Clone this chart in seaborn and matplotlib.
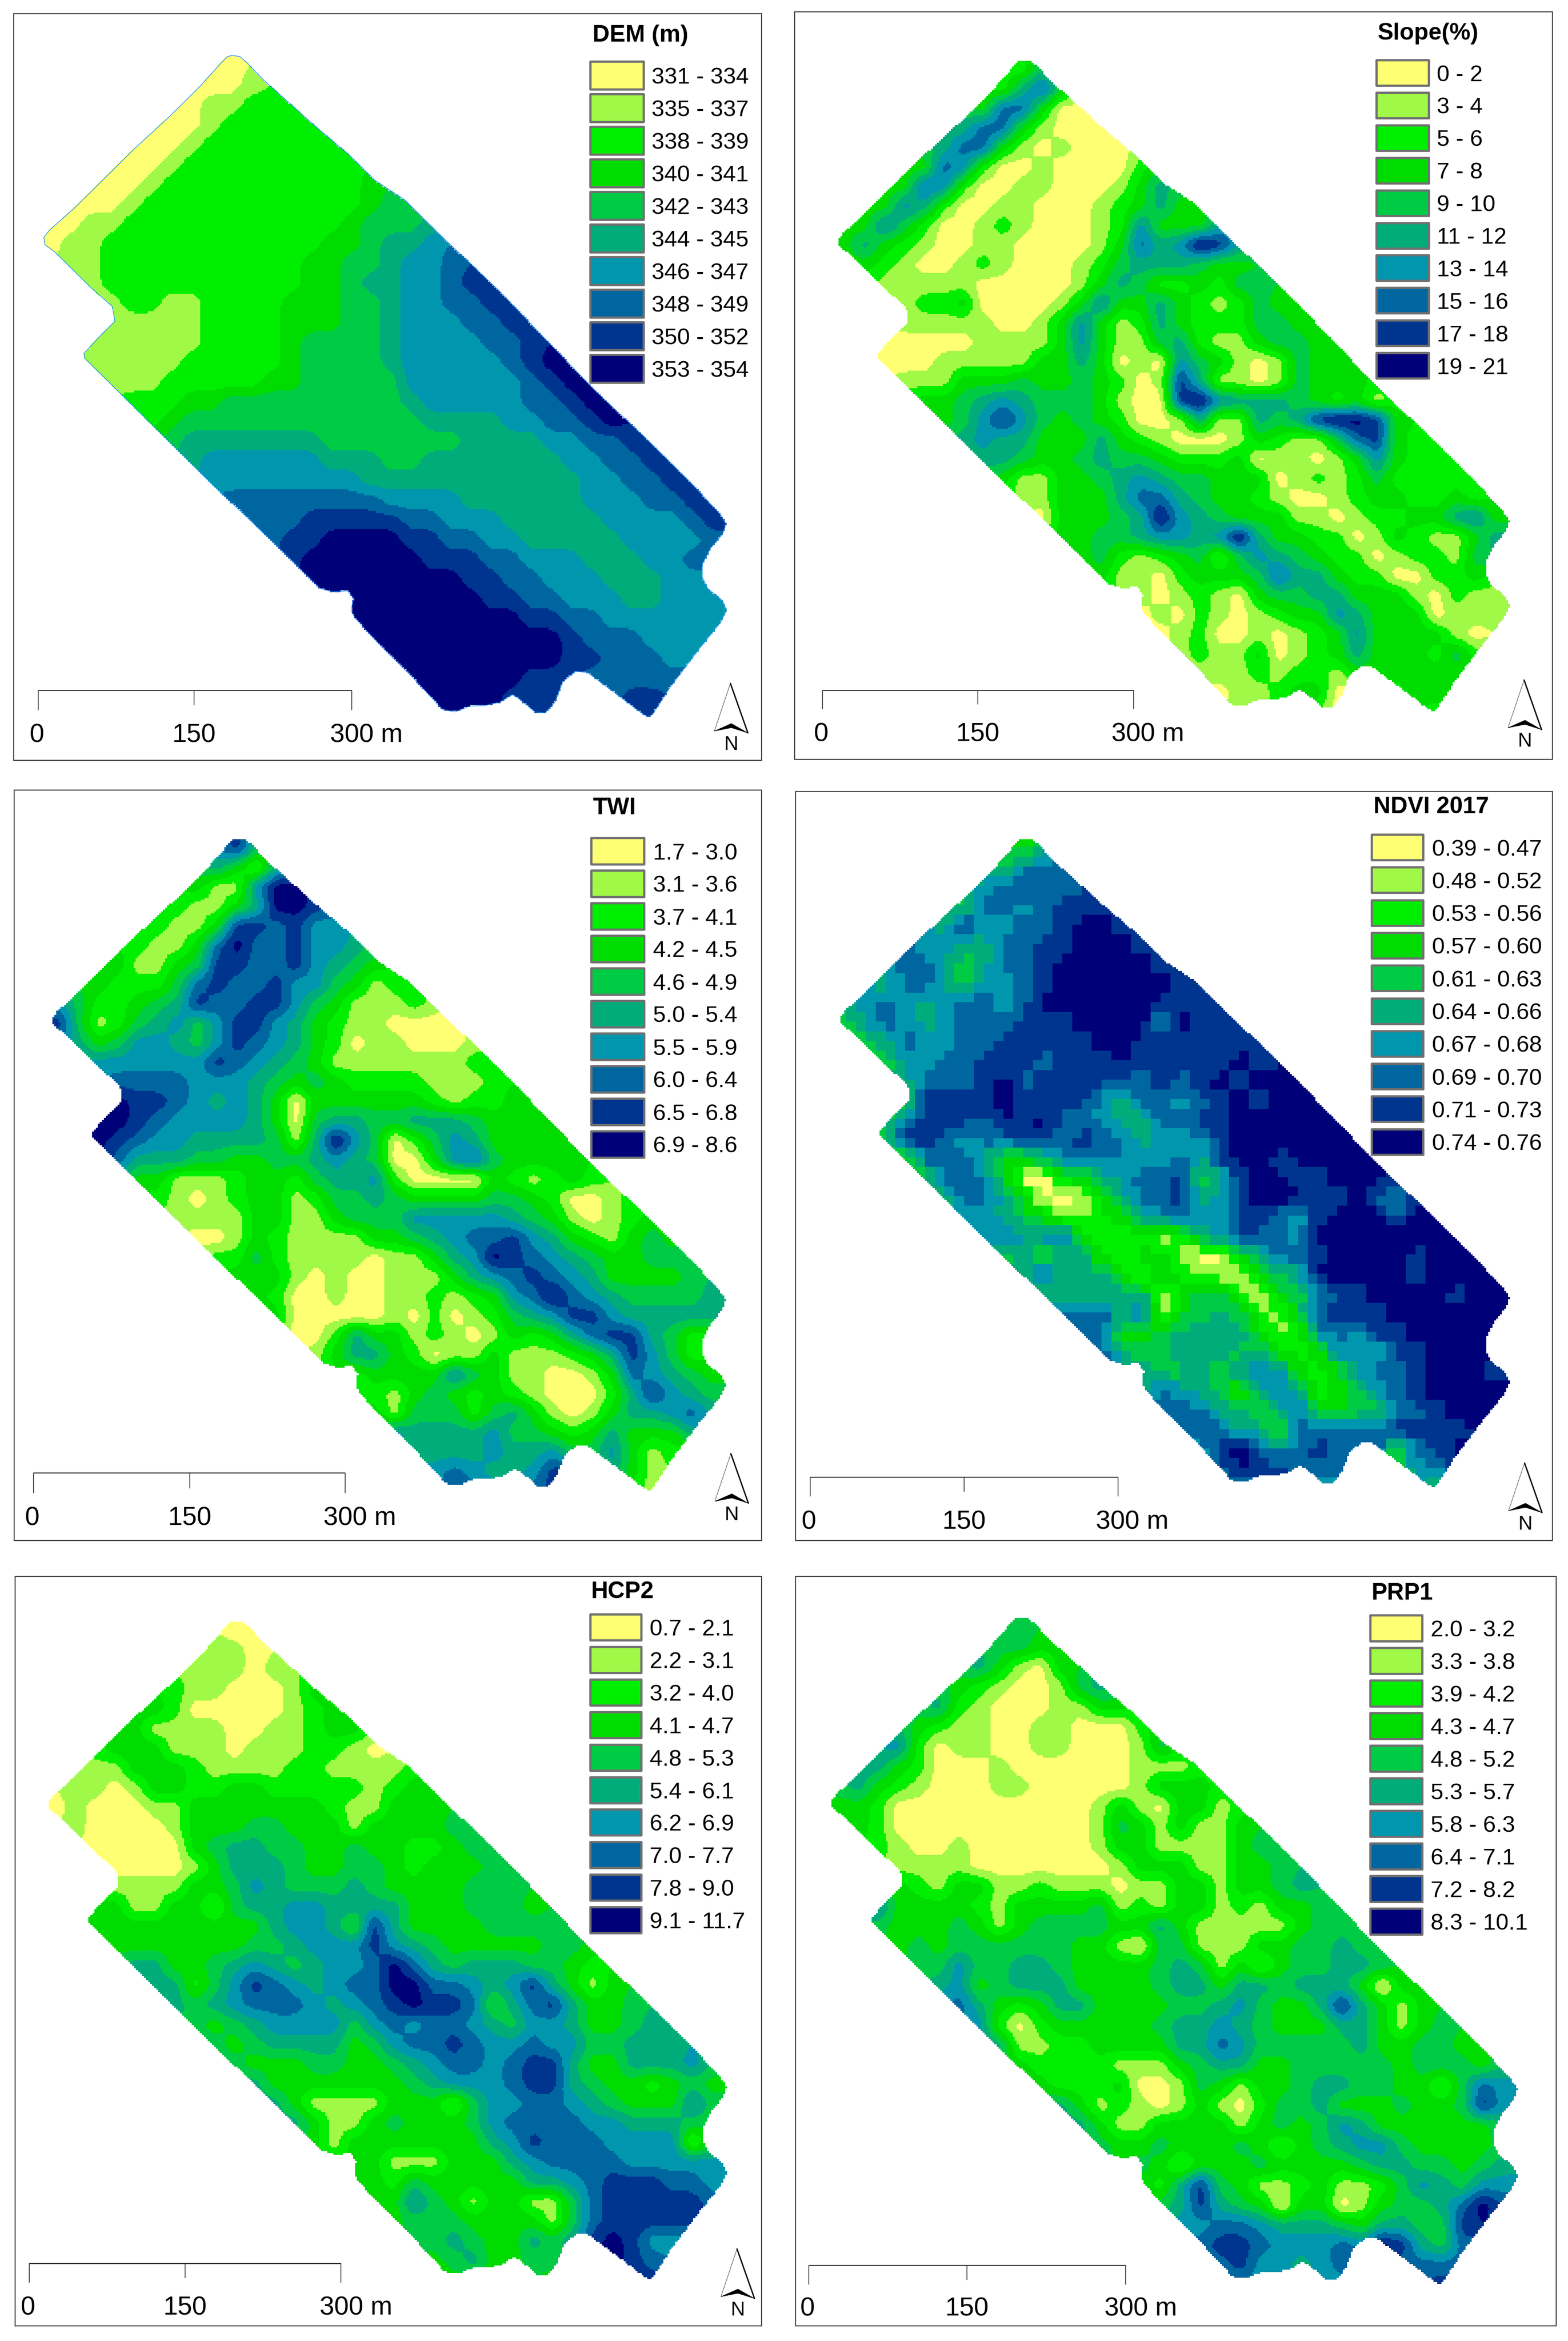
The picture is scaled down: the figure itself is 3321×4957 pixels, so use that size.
import numpy as np
import matplotlib
matplotlib.use("Agg")
import matplotlib.pyplot as plt
from matplotlib.colors import ListedColormap
from matplotlib.patches import Rectangle, Polygon
from matplotlib.path import Path
import seaborn as sns

sns.set_theme(style="white")
plt.rcParams['font.family'] = ['Liberation Sans', 'DejaVu Sans']

CLASS_COLORS = ['#FFFF73', '#A0F946', '#00EE00', '#00DC00', '#00CB44',
                '#00AD7A', '#0096AE', '#0066A0', '#00358F', '#000078']

DEM_LABELS = ['331 - 334', '335 - 337', '338 - 339', '340 - 341', '342 - 343',
              '344 - 345', '346 - 347', '348 - 349', '350 - 352', '353 - 354']
SLOPE_LABELS = ['0 - 2', '3 - 4', '5 - 6', '7 - 8', '9 - 10',
                '11 - 12', '13 - 14', '15 - 16', '17 - 18', '19 - 21']
TWI_LABELS = ['1.7 - 3.0', '3.1 - 3.6', '3.7 - 4.1', '4.2 - 4.5', '4.6 - 4.9',
              '5.0 - 5.4', '5.5 - 5.9', '6.0 - 6.4', '6.5 - 6.8', '6.9 - 8.6']
NDVI_LABELS = ['0.39 - 0.47', '0.48 - 0.52', '0.53 - 0.56', '0.57 - 0.60', '0.61 - 0.63',
               '0.64 - 0.66', '0.67 - 0.68', '0.69 - 0.70', '0.71 - 0.73', '0.74 - 0.76']
HCP2_LABELS = ['0.7 - 2.1', '2.2 - 3.1', '3.2 - 4.0', '4.1 - 4.7', '4.8 - 5.3',
               '5.4 - 6.1', '6.2 - 6.9', '7.0 - 7.7', '7.8 - 9.0', '9.1 - 11.7']
PRP1_LABELS = ['2.0 - 3.2', '3.3 - 3.8', '3.9 - 4.2', '4.3 - 4.7', '4.8 - 5.2',
               '5.3 - 5.7', '5.8 - 6.3', '6.4 - 7.1', '7.2 - 8.2', '8.3 - 10.1']
SCALE_LABELS = ['0', '150', '300 m']

# first occupied column of each row of the class grids
ROW_START = [9, 8, 7, 6, 5, 4, 3, 2, 1, 0, 1, 2, 3, 3, 2, 2, 3, 4, 5, 6, 7, 8, 9,
             10, 11, 12, 13, 15, 15, 16, 17, 18, 19, 20]

DEM = ["0", "001", "01122", "00122222", "0012222222", "001222222222",
       "00122222222223", "0012222222222234", "011222222222223444",
       "01122222222222334556", "11222222222233445667", "12222222222334556678",
       "12211222233344566778", "111112222333445666778", "11111122223444456666778",
       "111112222234444566666789", "111222223344444666666789", "222334444444445666667789",
       "234444444444445555667789", "455555554444444555566778", "566666655544555555566778",
       "666666665555555555566778", "777777776666555555666778", "777888887766655555666678",
       "78899998877665555566667", "899999988877666555667", "99999999887766655566",
       "9999999887766655666", "9999999998877666666", "99999999998777666",
       "999999999887776", "99999988.77777", "9999888..788", "99...8....8"]

SLOPE = ["2", "257", "37730", "57731000", "5773101000", "376200100002",
         "37620011000135", "3652001100012353", "364200121000126333",
         "35321001100001375698", "32100121000124555433", "11111000001354223244",
         "12230000136335321243", "111110013631253222443", "00000111136311452113443",
         "000111113353010643101433", "111333433432018511014333", "334565444310089655543231",
         "346864343200151154589983", "565533353210001321147832", "554334544322230110136322",
         "311334565443330121242222", "113335775433210012332232", "033345965433311012233563",
         "33445665695332201321135", "342123414654322012214", "31102333475532200223",
         "1012103445533310211", "0102101233653330111", "01200101236333310",
         "121130123533324", "11121221.33333", "0112330..233", "11...0....2"]

TWI = ["8", "531", "31169", "21135998", "2113887866", "211379778665",
       "31134887786543", "3222478778664312", "422345877886431112",
       "84124564688653211000", "53466546876532011000", "66666687654311111112",
       "77776665434322221112", "988765653033333321223", "99876666530455445554333",
       "987665555415964024653333", "755544334456540036743333", "331112332455620000321232",
       "2101233124454333344320012", "1111331134446666654310123", "0013211113345677865321343",
       "224211110113569876543344", "333101001113567876533334", "320010011212367976544445",
       "30000010201245688655555", "0025331210132357885422", "13553201131112358642",
       "2333364311001376543", "2213432321000258654", "31444245310135567",
       "655556443235333", "55556556.46312", "6765568..531", "77...8....1"]

NDVI = ["3", "467", "67877", "47767888", "5866778998", "675577889998",
        "77545778999998", "5775466789999998", "676567767999999888",
        "46765677788899996988", "45766778888899888888", "46677888788898888898",
        "57778978888778789899", "488889888865776789899", "47888798977655778899999",
        "488767788787756668999999", "377753356776667589989999", "478640033567784589978999",
        "577530013577856899988977", "665431123567668876899979", "675673222125687769999999",
        "463552233100357789999899", "575553142110445999998999", "555555134420346889999899",
        "77757134542147888999999", "773345555312676889999", "75445554532366588999",
        "5446366632367789998", "5765425752346789999", "77755357334477899",
        "777553777778888", "68976787.73789", "7988777..466", "66...5....5"]

HCP2 = ["0", "110", "11101", "21100013", "3200000123", "311110011233",
        "33311101112210", "1133321111221111", "110133223322222123",
        "01000113333333211333", "10000133344333133334", "00000345544334332234",
        "00001355543344323334", "111133465444543333444", "33113314556655553334443",
        "333333333566538533334444", "333333344566686543333344", "553345654566797545554432",
        "552468765677997765685313", "545677765678988735785334", "434566664676776546653345",
        "434555534677876676644555", "433344334567767885335556", "533333334566678854332343",
        "53111133314667765433364", "531134333467777665554", "31333333356877766661",
        "3311133356777766666", "3324333335567888776", "33643133114788888",
        "344433331478888", "44543354.89866", "3453344..987", "33...3....8"]

PRP1 = ["4", "443", "53103", "32100145", "5210001133", "321100110002",
        "62011001100014", "5320001000000111", "532100011000001333",
        "33200000000001310331", "32000000000014313113", "21001000000133111134",
        "11110000000133311334", "321331121110113313345", "63333213333412133121334",
        "433343134444335311111344", "343444444331044111334454", "446445543333454131344554",
        "563455533334553554555303", "753235533334456433585313", "620233333455654333553134",
        "511223333557644444533443", "322221113455334444434443", "322230014313345544331476",
        "53121013102445333433486", "531133331343465333333", "43343334313456643333",
        "4313334333345544345", "3258431123112465466", "45854303301344579",
        "667765554355448", "78876667.98547", "7866567..777", "66...6....8"]

FIELD_X = [465, 480, 495, 525, 630, 700, 750, 810, 880, 1000, 1085, 1190, 1290, 1380, 1440, 1452,
           1445, 1420, 1405, 1403, 1415, 1445, 1453, 1440, 1400, 1340, 1305, 1295, 1280, 1175, 1150,
           1125, 1110, 1090, 1070, 1040, 1025, 1000, 970, 940, 910, 885, 830, 760, 710, 702, 707,
           695, 665, 640, 560, 430, 340, 240, 170, 168, 200, 230, 225, 180, 110, 90, 88, 100, 150,
           210, 270, 340, 400, 440, 455]
FIELD_Y = [112, 115, 128, 160, 255, 315, 365, 405, 475, 590, 680, 790, 885, 975, 1040, 1060,
           1080, 1110, 1140, 1165, 1190, 1215, 1235, 1260, 1310, 1390, 1445, 1450, 1440, 1360, 1358,
           1380, 1420, 1442, 1440, 1415, 1405, 1420, 1427, 1428, 1440, 1435, 1375, 1305, 1250, 1235, 1210,
           1195, 1197, 1190, 1110, 985, 895, 795, 725, 715, 680, 650, 620, 580, 510, 495, 480, 465, 420,
           360, 300, 235, 175, 130, 115]

# layout in output pixels -----------------------------------------------------
W, H = 3321, 4957
NROW, NCOL, UP, BLOCK = 34, 35, 10, 5
PANELS = [
    dict(title='DEM (m)', rows=DEM, labels=DEM_LABELS, frame=(29, 1613, 29, 1610), field=(93, 1539, 117, 1518),
         sw=(1250, 1363, 130, 189, 69.0), tx=1380, ttl=(1255, 75),
         bar=(81, 411, 745, 1462, 1503, 1552, 699), north=(1547, 1447), outline=True, blocks=False),
    dict(title='Slope(%)', rows=SLOPE, labels=SLOPE_LABELS, frame=(1683, 3288, 25, 1608), field=(1776, 3198, 127, 1506),
         sw=(2915, 3026, 127, 181, 68.9), tx=3043, ttl=(2918, 71),
         bar=(1742, 2071, 2401, 1462, 1501, 1549, 2354), north=(3228, 1440), outline=False, blocks=False),
    dict(title='TWI', rows=TWI, labels=TWI_LABELS, frame=(30, 1613, 1673, 3262), field=(111, 1538, 1775, 3156),
         sw=(1252, 1364, 1774, 1830, 69.0), tx=1383, ttl=(1256, 1711),
         bar=(71, 402, 731, 3119, 3161, 3209, 685), north=(1548, 3078), outline=False, blocks=False),
    dict(title='NDVI 2017', rows=NDVI, labels=NDVI_LABELS, frame=(1685, 3288, 1676, 3262), field=(1780, 3198, 1775, 3149),
         sw=(2905, 3014, 1767, 1821, 69.3), tx=3033, ttl=(2909, 1709),
         bar=(1716, 2042, 2368, 3128, 3168, 3217, 2321), north=(3229, 3098), outline=False, blocks=True),
    dict(title='HCP2', rows=HCP2, labels=HCP2_LABELS, frame=(32, 1613, 3338, 4925), field=(103, 1540, 3432, 4826),
         sw=(1250, 1358, 3418, 3473, 68.9), tx=1376, ttl=(1252, 3371),
         bar=(62, 392, 722, 4793, 4833, 4882, 677), north=(1561, 4762), outline=False, blocks=False),
    dict(title='PRP1', rows=PRP1, labels=PRP1_LABELS, frame=(1685, 3296, 3338, 4925), field=(1761, 3215, 3424, 4836),
         sw=(2902, 3012, 3420, 3475, 69.0), tx=3030, ttl=(2905, 3374),
         bar=(1713, 2048, 2384, 4797, 4837, 4884, 2339), north=None, outline=False, blocks=False),
]
# the class grid reaches slightly past the field's bounding box
GRID_U = (-0.00587, 1.02053)
GRID_V = (-0.0015, 1.0149)
FIELD_U = (np.array(FIELD_X) - 88) / 1365
FIELD_V = (np.array(FIELD_Y) - 112) / 1338


def to_grid(rows):
    a = np.full((NROW, NCOL), np.nan)
    for r, (row, st) in enumerate(zip(rows, ROW_START)):
        for i, ch in enumerate(row):
            if ch.isdigit() and st + i < NCOL:
                a[r, st + i] = int(ch)
    # carry the nearest classes just past the edge of the surveyed cells
    for _ in range(4):
        pad = np.pad(a, 1, constant_values=np.nan)
        stack = np.stack([pad[:-2, 1:-1], pad[2:, 1:-1], pad[1:-1, :-2], pad[1:-1, 2:]])
        cnt = np.isfinite(stack).sum(0)
        mean = np.nansum(stack, 0) / np.maximum(cnt, 1)
        a = np.where(np.isfinite(a), a, np.where(cnt > 0, mean, np.nan))
    return a


def box(a, k):
    kern = np.ones(k) / k
    a = np.apply_along_axis(lambda v: np.convolve(v, kern, mode='same'), 0, a)
    return np.apply_along_axis(lambda v: np.convolve(v, kern, mode='same'), 1, a)


def field_mask():
    ny, nx = NROW * UP, NCOL * UP
    us = GRID_U[0] + (np.arange(nx) + 0.5) / nx * (GRID_U[1] - GRID_U[0])
    vs = GRID_V[0] + (np.arange(ny) + 0.5) / ny * (GRID_V[1] - GRID_V[0])
    uu, vv = np.meshgrid(us, vs)
    path = Path(np.column_stack([FIELD_U, FIELD_V]))
    return path.contains_points(np.column_stack([uu.ravel(), vv.ravel()])).reshape(ny, nx)


def refine(grid, blocks):
    """Upsample a class grid and round its cell staircase."""
    valid = np.isfinite(grid).astype(float)
    hi_v = np.kron(np.nan_to_num(grid), np.ones((UP, UP)))
    hi_w = np.kron(valid, np.ones((UP, UP)))
    num = box(box(hi_v * hi_w, UP), UP // 2)
    den = box(box(hi_w, UP), UP // 2)
    vals = np.where(den > 1e-6, num / np.maximum(den, 1e-6), np.nan)
    if blocks:
        # the source raster of this map has pixels half a grid cell wide
        vals = np.kron(vals[BLOCK // 2::BLOCK, BLOCK // 2::BLOCK], np.ones((BLOCK, BLOCK)))
    return np.rint(vals)


MASK = field_mask()
cmap = ListedColormap(CLASS_COLORS)

fig = plt.figure(figsize=(W / 100, H / 100), dpi=100, facecolor='white')

for p in PANELS:
    l, r, t, b = p['field']
    x0 = l + GRID_U[0] * (r - l)
    x1 = l + GRID_U[1] * (r - l)
    y0 = t + GRID_V[0] * (b - t)
    y1 = t + GRID_V[1] * (b - t)
    ax = fig.add_axes([x0 / W, 1 - y1 / H, (x1 - x0) / W, (y1 - y0) / H])
    vals = refine(to_grid(p['rows']), p['blocks'])
    sns.heatmap(vals, mask=~MASK | np.isnan(vals), cmap=cmap, vmin=-0.5, vmax=9.5, cbar=False,
                xticklabels=False, yticklabels=False, ax=ax)
    ax.set_axis_off()

ov = fig.add_axes([0, 0, 1, 1], zorder=5)
ov.set_xlim(0, W)
ov.set_ylim(H, 0)
ov.set_axis_off()
ov.patch.set_alpha(0)

FRAME_C = '#444444'
for p in PANELS:
    fx0, fx1, fy0, fy1 = p['frame']
    ov.add_patch(Rectangle((fx0, fy0), fx1 - fx0, fy1 - fy0, fill=False, ec=FRAME_C, lw=1.6))
    if p['outline']:
        l, r, t, b = p['field']
        ov.add_patch(Polygon(np.column_stack([l + FIELD_U * (r - l), t + FIELD_V * (b - t)]),
                             closed=True, fill=False, ec='#1E90FF', lw=1.0))
    ov.text(p['ttl'][0], p['ttl'][1], p['title'], fontsize=36, fontweight='bold',
            ha='left', va='center', color='black')
    sx0, sx1, sy0, sy1, step = p['sw']
    for i, (lab, col) in enumerate(zip(p['labels'], CLASS_COLORS)):
        ov.add_patch(Rectangle((sx0, sy0 + i * step), sx1 - sx0, sy1 - sy0, fc=col,
                               ec='#707070', lw=3.4, joinstyle='round'))
        ov.text(p['tx'], (sy0 + sy1) / 2 + i * step, lab, fontsize=35, ha='left',
                va='center_baseline', color='black')
    bx0, bx1, bx2, by, byend, ly, lx3 = p['bar']
    ov.plot([bx0, bx2], [by, by], color='#333333', lw=1.6, solid_capstyle='butt')
    ov.plot([bx0, bx0], [by, byend], color='#333333', lw=1.2)
    ov.plot([bx1, bx1], [by, by + 0.75 * (byend - by)], color='#333333', lw=1.2)
    ov.plot([bx2, bx2], [by, byend], color='#333333', lw=1.2)
    ov.text(bx0 - 3, ly, SCALE_LABELS[0], fontsize=40, ha='center', va='center_baseline', color='black')
    ov.text(bx1, ly, SCALE_LABELS[1], fontsize=40, ha='center', va='center_baseline', color='black')
    ov.text(lx3, ly, SCALE_LABELS[2], fontsize=40, ha='left', va='center_baseline', color='black')
    if p['north'] is not None:
        nx, ny = p['north']
        ov.add_patch(Polygon([(nx, ny), (nx - 34, ny + 101), (nx + 2, ny + 92), (nx + 37, ny + 105)],
                             closed=True, fc='white', ec='#555555', lw=0.8))
        ov.plot([nx, nx + 37], [ny, ny + 105], color='black', lw=2.0)
        ov.add_patch(Polygon([(nx - 34, ny + 101), (nx + 2, ny + 85), (nx + 37, ny + 105), (nx + 2, ny + 94)],
                             closed=True, fc='black', ec='black', lw=0.5))
        ov.text(nx + 2, ny + 130, 'N', fontsize=30, ha='center', va='center', color='black')

fig.savefig('out.png', dpi=100, facecolor='white')
